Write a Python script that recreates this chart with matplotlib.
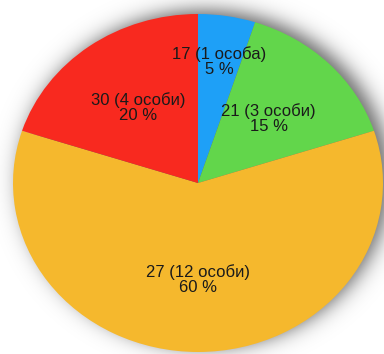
import numpy as np
import matplotlib
matplotlib.use("Agg")
import matplotlib.pyplot as plt

# share of each group, clockwise from the top
counts = [17, 21, 27, 30]
people = ["1 особа", "3 особи", "12 особи", "4 особи"]
shares = [5, 15, 60, 20]
colors = ["#1ea0f7", "#62d64b", "#f5b82d", "#f8291f"]
label_r = [0.73, 0.54, 0.57, 0.55]

plt.rcParams['font.family'] = ['Liberation Sans', 'DejaVu Sans']

W, H = 384, 354
fig = plt.figure(figsize=(W / 100, H / 100), dpi=100)
fig.patch.set_facecolor("white")

# soft drop shadow behind the pie (pixel space)
bg = fig.add_axes([0, 0, 1, 1])
bg.set_axis_off()
yy, xx = np.mgrid[0:H, 0:W] + 0.5
cx, cy, rx, ry = 198 + 7, 183 - 4, 185, 169
d = (np.sqrt(((xx - cx) / rx) ** 2 + ((yy - cy) / ry) ** 2) - 1) * 177
alpha = 0.6 / (1 + np.exp(d / 6.0))
img = np.zeros((H, W, 4))
img[..., 3] = alpha
bg.imshow(img, extent=(0, W, H, 0), interpolation="bilinear")
bg.set_xlim(0, W)
bg.set_ylim(H, 0)

left, right, top, bottom = 13, 383, 14, 352
ax = fig.add_axes([left / W, (H - bottom) / H, (right - left) / W, (bottom - top) / H])
wedges, _ = ax.pie(shares, colors=colors, startangle=90, counterclock=False,
                   wedgeprops=dict(linewidth=0))
ax.set_aspect("auto")
ax.set_xlim(-1, 1)
ax.set_ylim(-1, 1)
ax.set_axis_off()

for w, c, p, s, r in zip(wedges, counts, people, shares, label_r):
    mid = np.deg2rad((w.theta1 + w.theta2) / 2)
    ax.text(r * np.cos(mid), r * np.sin(mid), f"{c} ({p})\n{s} %",
            ha="center", va="center", fontsize=12, color="#1a1a1a",
            linespacing=1.0, fontweight="medium")

fig.savefig("out.png", dpi=100)
